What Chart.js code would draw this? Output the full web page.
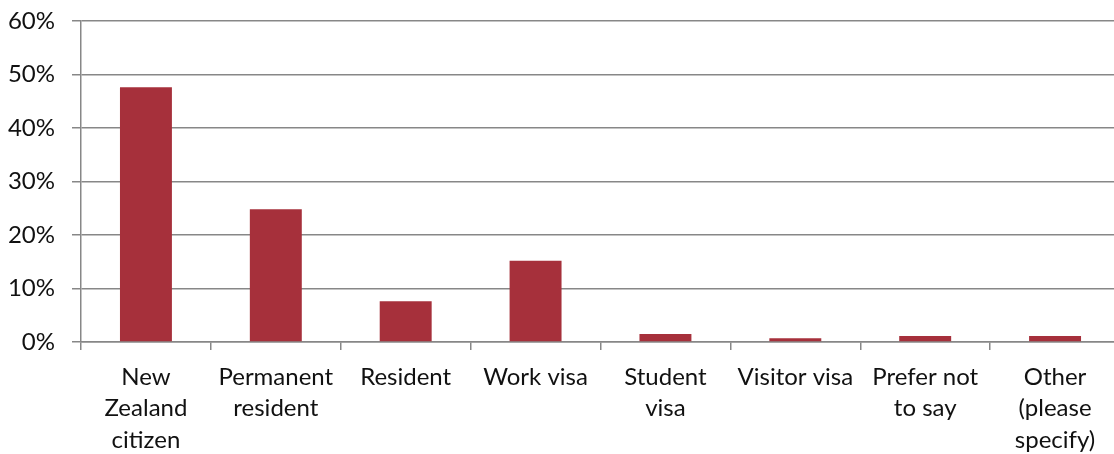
<!DOCTYPE html>
<html>
<head>
<meta charset="utf-8">
<script src="https://cdn.jsdelivr.net/npm/chart.js@4/dist/chart.umd.min.js"></script>
<style>
  html, body { margin: 0; padding: 0; background: #fff; overflow: hidden; }
  #wrap { width: 1120px; height: 454px; position: relative; }
</style>
</head>
<body>
<div id="wrap"><canvas id="myChart"></canvas></div>
<script>
var categories = [
    ["New", "Zealand", "citizen"],
    ["Permanent", "resident"],
    "Resident",
    "Work visa",
    ["Student", "visa"],
    "Visitor visa",
    ["Prefer not", "to say"],
    ["Other", "(please", "specify)"]
];
var shares = [47.6, 24.8, 7.6, 15.2, 1.5, 0.7, 1.1, 1.1];
var yTicks = [0, 10, 20, 30, 40, 50, 60];

var gridGrey = "#878787";
var font = { family: "Lato, 'Liberation Sans', sans-serif", size: 24 };

var ctx = document.getElementById("myChart");
var myChart = new Chart(ctx, {
    type: 'bar',
    data: {
        labels: categories,
        datasets: [
            {
                data: shares,
                backgroundColor: "#a6303b",
                barPercentage: 0.4,
                categoryPercentage: 1.0
            }
        ]
    },
    options: {
        responsive: true,
        maintainAspectRatio: false,
        animation: false,
        layout: { padding: { top: 21, right: 0, left: 0, bottom: 0 } },
        plugins: {
            legend: { display: false },
            tooltip: { enabled: false }
        },
        scales: {
            x: {
                offset: true,
                grid: {
                    offset: true,
                    drawOnChartArea: false,
                    drawTicks: true,
                    tickLength: 8,
                    color: gridGrey,
                    lineWidth: 1.5
                },
                border: { display: true, color: gridGrey, width: 1.5 },
                ticks: {
                    color: "#111",
                    font: { family: font.family, size: 24, lineHeight: 1.32 },
                    padding: 11,
                    maxRotation: 0,
                    autoSkip: false
                },
                afterFit: function(scale) {
                    scale.height = 112;
                    scale.paddingLeft = 0;
                    scale.paddingRight = 0;
                }
            },
            y: {
                min: 0,
                max: 60,
                afterBuildTicks: function(scale) {
                    scale.ticks = yTicks.map(function(v) { return { value: v }; });
                },
                grid: {
                    color: gridGrey,
                    lineWidth: 1.5,
                    tickLength: 9
                },
                border: { display: true, color: gridGrey, width: 1.5 },
                ticks: {
                    color: "#111",
                    font: font,
                    padding: 17,
                    callback: function(v) { return v + '%'; }
                },
                afterFit: function(scale) {
                    scale.width = 81;
                    scale.paddingTop = 0;
                    scale.paddingBottom = 0;
                }
            }
        }
    }
});
</script>
</body>
</html>
